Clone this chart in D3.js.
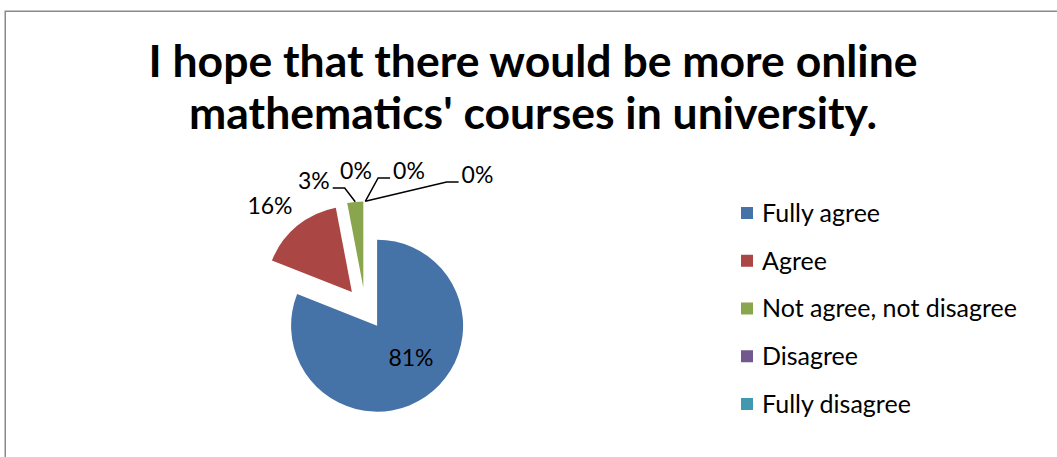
<!DOCTYPE html>
<html>
<head>
<meta charset="utf-8">
<script src="https://cdn.jsdelivr.net/npm/d3@7"></script>
<style>
  html, body { margin: 0; padding: 0; background: #fff; }
  svg { display: block; }
  text { font-family: Lato, "Open Sans", sans-serif; fill: #000; }
</style>
</head>
<body>
<svg id="chart" width="1057" height="457"></svg>
<script>
// Survey answers: share of respondents (percent)
const categories = ["Fully agree", "Agree", "Not agree, not disagree", "Disagree", "Fully disagree", ""];
const values = [81, 16, 3, 0, 0, 0];
const colors = ["#4572A7", "#AA4643", "#89A54E", "#71588F", "#4198AF", "#DB843D"];
const titleLines = ["I hope that there would be more online", "mathematics' courses in university."];

// Layout
const W = 1057, H = 457;
const frame = { x: 5.25, y: 11.25, w: 1070, h: 470 };
const pieCenter = { x: 365.3, y: 308.3 };
const radius = 86;
const explode = 21;
// label centres relative to the pie centre, and whether a leader line is drawn
const labelLayout = [
  { dx: 45.7, dy: 49.7, leader: false },
  { dx: -95.3, dy: -102.8, leader: false },
  { dx: -51.5, dy: -127.3, leader: true },
  { dx: -9.3, dy: -137.3, leader: false },
  { dx: 43.7, dy: -137.3, leader: true },
  { dx: 112.2, dy: -133.3, leader: true }
];
const labelFont = 23;
const legend = { x: 741, y0: 213, step: 47.75, box: 12, textX: 762, font: 25 };

const svg = d3.select("#chart");

// outer frame (right and bottom sides fall outside the view)
svg.append("rect")
  .attr("x", frame.x).attr("y", frame.y)
  .attr("width", frame.w).attr("height", frame.h)
  .attr("fill", "#fff").attr("stroke", "#898989").attr("stroke-width", 1.5);

// title
svg.append("g").selectAll("text").data(titleLines).join("text")
  .attr("x", 533).attr("y", (d, i) => 77 + i * 52)
  .attr("text-anchor", "middle")
  .attr("font-size", 44.5).attr("font-weight", 700)
  .text(d => d);

// pie
const pie = d3.pie().sort(null).value(d => d)(values);
const arc = d3.arc().innerRadius(0).outerRadius(radius);
const unit = a => [Math.sin(a), -Math.cos(a)];
const mid = d => (d.startAngle + d.endAngle) / 2;

const g = svg.append("g").attr("transform", `translate(${pieCenter.x},${pieCenter.y})`);

g.selectAll("path").data(pie).join("path")
  .attr("transform", d => { const [ux, uy] = unit(mid(d)); return `translate(${ux * explode},${uy * explode})`; })
  .attr("d", arc)
  .attr("fill", (d, i) => colors[i]);

// data labels
const fmt = d3.format(".0%");
const labels = g.selectAll("text.lbl").data(pie).join("text")
  .attr("class", "lbl")
  .attr("x", (d, i) => labelLayout[i].dx)
  .attr("y", (d, i) => labelLayout[i].dy)
  .attr("dy", "0.35em")
  .attr("text-anchor", "middle")
  .attr("font-size", labelFont)
  .text(d => fmt(d.data / 100));

// leader lines: short horizontal landing from the label, then to the slice's outer midpoint
labels.each(function (d, i) {
  const lay = labelLayout[i];
  if (!lay.leader) return;
  const [ux, uy] = unit(mid(d));
  const ax = ux * (explode + radius), ay = uy * (explode + radius);
  const half = this.getComputedTextLength() / 2;
  const side = ax > lay.dx ? 1 : -1;
  const sx = lay.dx + side * (half + 3), sy = lay.dy + 7;
  const lx = sx + side * 12;
  g.append("path")
    .attr("d", `M${sx},${sy}H${lx}L${ax},${ay}`)
    .attr("fill", "none").attr("stroke", "#000").attr("stroke-width", 1.5);
});

// legend: entries that fit inside the frame
const entries = categories.map((c, i) => ({ c, i }))
  .filter(e => legend.y0 + e.i * legend.step + legend.box < H);
const lg = svg.append("g").selectAll("g").data(entries).join("g")
  .attr("transform", e => `translate(0,${legend.y0 + e.i * legend.step})`);
lg.append("rect")
  .attr("x", legend.x).attr("y", -legend.box / 2)
  .attr("width", legend.box).attr("height", legend.box)
  .attr("fill", e => colors[e.i]);
lg.append("text")
  .attr("x", legend.textX).attr("y", 0).attr("dy", "0.35em")
  .attr("font-size", legend.font)
  .text(e => e.c);
</script>
</body>
</html>
